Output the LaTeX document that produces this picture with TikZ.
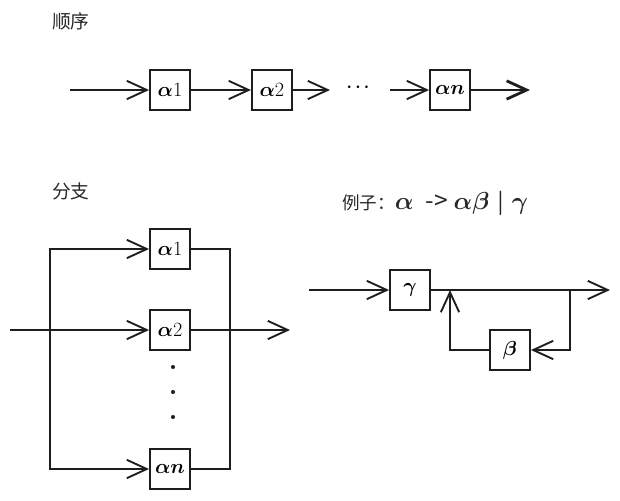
\documentclass[tikz,border=0pt]{standalone}
\usepackage{fix-cm}
\usepackage{fontspec}
\usepackage{tikz}
\usetikzlibrary{positioning,arrows.meta}
\newfontfamily\cjk{Noto Sans CJK SC}
\definecolor{inkcol}{RGB}{30,30,30}
\definecolor{headcol}{RGB}{40,40,40}
\newcommand{\rulemath}{{\fontsize{21}{24}\selectfont\boldmath$\alpha$\hspace{0.5em}-> $\alpha\beta$\hspace{0.3em}$\vert$\hspace{0.3em}$\gamma$}}

\begin{document}
\begin{tikzpicture}[
            x=0.03cm, y=-0.03cm,
            node distance=1.8cm,
            >={Straight Barb[length=0.6cm, width=0.55cm]},
            box/.style={
                    rectangle, draw=inkcol, line width=1.6pt,
                    minimum width=1.2cm, minimum height=1.2cm,
                    inner sep=0pt, font=\LARGE\boldmath
                },
            heading/.style={anchor=west, text=headcol, font=\cjk\fontsize{16}{19}\selectfont},
            line/.style={draw=inkcol, line width=1.6pt},
            arrow/.style={->, line},
            vdots/.style={circle, fill=inkcol, inner sep=0pt, minimum size=3.5pt}
            ]

            \useasboundingbox (0,0) rectangle (620,500);

            % ===== Headings =====
            \node[heading] (seqtitle) at (48,21) {顺序};
            \node[heading] (brtitle) at (48,191) {分支};
            \node[heading, font=\cjk\fontsize{15}{18}\selectfont] (extitle) at (338,203) {例子：\rulemath};

            % ===== Sequence (top row) =====
            \coordinate (sin) at (70,90);
            \node[box] (s1) at (170,90) {$\alpha$1};
            \node[box, right=of s1] (s2) {$\alpha$2};
            \coordinate (sdots) at (330,90);
            \node[inner sep=0pt, font=\Large\boldmath] (ell) at (358,88) {$\cdots$};
            \coordinate (sn0) at (390,90);
            \node[box] (sn) at (450,90) {$\alpha n$};
            \coordinate (sout) at (530,90);

            \draw[arrow] (sin) -- (s1);
            \draw[arrow] (s1) -- (s2);
            \draw[arrow] (s2) -- (sdots);
            \draw[arrow] (sn0) -- (sn);
            \draw[arrow, line width=2.4pt] (sn) -- (sout);

            % ===== Branch (bottom left) =====
            \node[box] (b1) at (170,249) {$\alpha$1};
            \node[box] (b2) at (170,330) {$\alpha$2};
            \node[box] (bn) at (170,469) {$\alpha n$};
            \node[vdots] (d1) at (173,367) {};
            \node[vdots] (d2) at (173,392) {};
            \node[vdots] (d3) at (173,417) {};
            \coordinate (bin) at (10,330);
            \coordinate (split) at (50,330);
            \coordinate (join) at (230,330);
            \coordinate (bout) at (290,330);

            \draw[arrow] (bin) -- (b2);
            \draw[arrow] (split) |- (b1);
            \draw[arrow] (split) |- (bn);
            \draw[line] (b1) -| (join);
            \draw[line] (bn) -| (join);
            \draw[arrow] (b2) -- (bout);

            % ===== Example: alpha -> alpha beta | gamma =====
            \node[box] (gam) at (410,290) {$\gamma$};
            \node[box] (bet) at (510,350) {$\beta$};
            \coordinate (ein) at (309,290);
            \coordinate (eout) at (610,290);
            \coordinate (tap) at (570,290);
            \coordinate (merge) at (450,290);

            \draw[arrow] (ein) -- (gam);
            \draw[arrow] (gam) -- (eout);
            \draw[arrow] (tap) |- (bet);
            \draw[arrow] (bet) -| (merge);

        \end{tikzpicture}
\end{document}
